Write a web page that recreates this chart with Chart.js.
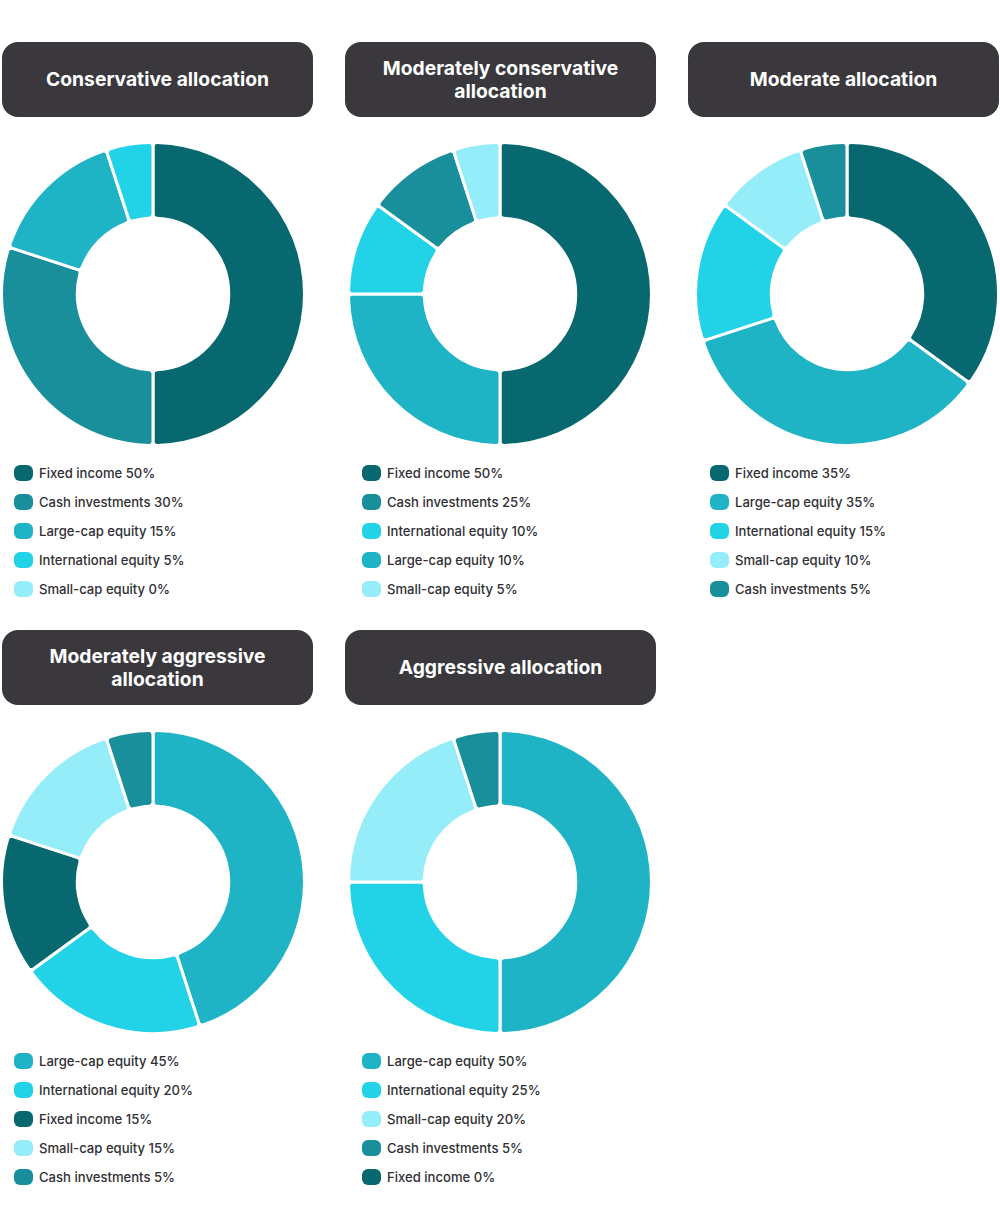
<!DOCTYPE html>
<html>
<head>
<meta charset="utf-8">
<script src="https://cdn.jsdelivr.net/npm/chart.js@4/dist/chart.umd.min.js"></script>
<style>
  html, body { margin: 0; padding: 0; background: #ffffff; }
  body { width: 1000px; height: 1227px; position: relative; overflow: hidden; font-family: Inter, "Open Sans", sans-serif; }
  .header {
    position: absolute; width: 311px; height: 75px; border-radius: 16px;
    background: #3a383c; color: #ffffff; font-weight: 700; font-size: 19.3px; line-height: 23px;
    display: flex; align-items: center; justify-content: center; text-align: center;
  }
  .donut { position: absolute; width: 306px; height: 306px; }
  .legend { position: absolute; list-style: none; margin: 0; padding: 0; }
  .legend li { height: 29px; display: flex; align-items: center; font-size: 13.1px; font-weight: 500; color: #303034; }
  .legend .sw { width: 19px; height: 16px; border-radius: 6px; margin-right: 6px; flex: none; }
</style>
</head>
<body>
<script>
// Colores de cada tipo de activo
const FIXED = "#08686f";
const CASH = "#1a8f9c";
const LARGE = "#1fb3c6";
const INTL = "#22d3e8";
const SMALL = "#95edf9";

// Títulos de cada panel
const titles = [
  "Conservative allocation",
  "Moderately conservative<br>allocation",
  "Moderate allocation",
  "Moderately aggressive<br>allocation",
  "Aggressive allocation",
];

// Conservative
const conservativeLabels = ["Fixed income", "Cash investments", "Large-cap equity", "International equity", "Small-cap equity"];
const conservativeValues = [50, 30, 15, 5, 0];
const conservativeColors = [FIXED, CASH, LARGE, INTL, SMALL];

// Moderately conservative (el donut pinta los colores en otro orden que la leyenda)
const modConservativeLabels = ["Fixed income", "Cash investments", "International equity", "Large-cap equity", "Small-cap equity"];
const modConservativeValues = [50, 25, 10, 10, 5];
const modConservativeColors = [FIXED, CASH, INTL, LARGE, SMALL];
const modConservativeArcColors = [FIXED, LARGE, INTL, CASH, SMALL];

// Moderate
const moderateLabels = ["Fixed income", "Large-cap equity", "International equity", "Small-cap equity", "Cash investments"];
const moderateValues = [35, 35, 15, 10, 5];
const moderateColors = [FIXED, LARGE, INTL, SMALL, CASH];

// Moderately aggressive
const modAggressiveLabels = ["Large-cap equity", "International equity", "Fixed income", "Small-cap equity", "Cash investments"];
const modAggressiveValues = [45, 20, 15, 15, 5];
const modAggressiveColors = [LARGE, INTL, FIXED, SMALL, CASH];

// Aggressive
const aggressiveLabels = ["Large-cap equity", "International equity", "Small-cap equity", "Cash investments", "Fixed income"];
const aggressiveValues = [50, 25, 20, 5, 0];
const aggressiveColors = [LARGE, INTL, SMALL, CASH, FIXED];

const panels = [
  { labels: conservativeLabels, values: conservativeValues, colors: conservativeColors, arcColors: conservativeColors },
  { labels: modConservativeLabels, values: modConservativeValues, colors: modConservativeColors, arcColors: modConservativeArcColors },
  { labels: moderateLabels, values: moderateValues, colors: moderateColors, arcColors: moderateColors },
  { labels: modAggressiveLabels, values: modAggressiveValues, colors: modAggressiveColors, arcColors: modAggressiveColors },
  { labels: aggressiveLabels, values: aggressiveValues, colors: aggressiveColors, arcColors: aggressiveColors },
];

panels.forEach((p, i) => {
  const col = i % 3;
  const row = Math.floor(i / 3);
  const top = 42 + row * 588;

  // Cabecera oscura
  const header = document.createElement("div");
  header.className = "header";
  header.style.left = (2 + col * 343) + "px";
  header.style.top = top + "px";
  header.innerHTML = titles[i];
  document.body.appendChild(header);

  // Donut
  const wrap = document.createElement("div");
  wrap.className = "donut";
  wrap.style.left = (0 + col * 347) + "px";
  wrap.style.top = (top + 99) + "px";
  const canvas = document.createElement("canvas");
  wrap.appendChild(canvas);
  document.body.appendChild(wrap);

  new Chart(canvas, {
    type: "doughnut",
    data: {
      labels: p.labels,
      datasets: [{
        data: p.values,
        backgroundColor: p.arcColors,
        borderColor: "#ffffff",
        borderWidth: 3,
        borderRadius: 4,
      }],
    },
    options: {
      responsive: true,
      maintainAspectRatio: false,
      animation: false,
      cutout: "50%",
      plugins: { legend: { display: false }, tooltip: { enabled: false } },
    },
  });

  // Leyenda hecha a mano
  const ul = document.createElement("ul");
  ul.className = "legend";
  ul.style.left = (14 + col * 348) + "px";
  ul.style.top = (top + 416) + "px";
  p.labels.forEach((label, j) => {
    const li = document.createElement("li");
    const sw = document.createElement("span");
    sw.className = "sw";
    sw.style.background = p.colors[j];
    li.appendChild(sw);
    li.appendChild(document.createTextNode(label + " " + p.values[j] + "%"));
    ul.appendChild(li);
  });
  document.body.appendChild(ul);
});
</script>
</body>
</html>
